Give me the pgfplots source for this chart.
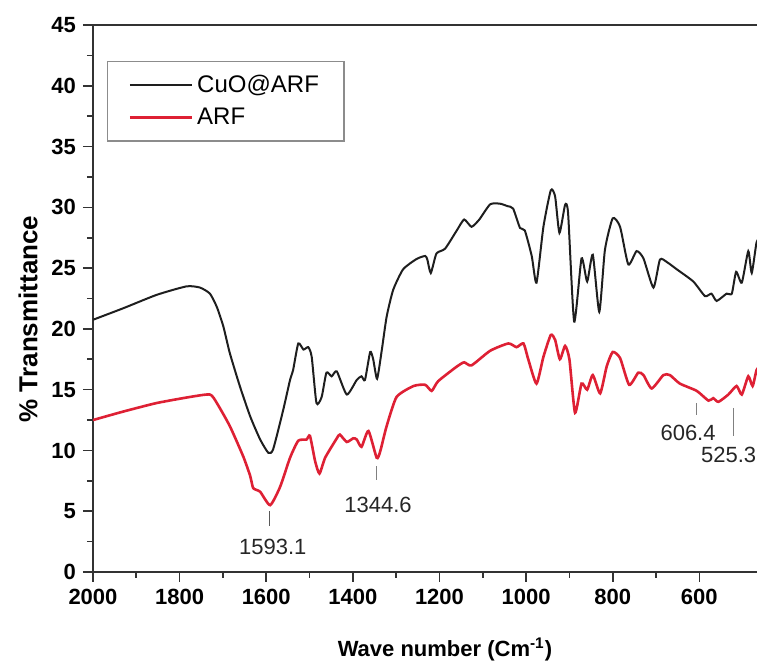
\documentclass[border=0pt]{standalone}
\usepackage{fontspec}
\setmainfont{Liberation Sans}
\usepackage{pgfplots}
\pgfplotsset{compat=1.18}
\definecolor{arfred}{RGB}{222,32,52}
\definecolor{cuoblack}{RGB}{30,30,30}
\begin{document}
\begin{tikzpicture}
\begin{axis}[
  scale only axis,
  width=334.6pt, height=273.5pt,
  x dir=reverse,
  xmin=455, xmax=2000,
  ymin=0, ymax=45,
  xtick={600,800,...,2000},
  minor x tick num=1,
  ytick={0,5,...,45},
  minor y tick num=1,
  xtick pos=left, ytick pos=left,
  tick align=outside,
  major tick length=5pt, minor tick length=3pt,
  axis line style={line width=1pt, black!80},
  every tick/.style={line width=0.8pt, black!80},
  /pgf/number format/assume math mode=true,
  /pgf/number format/1000 sep={},
  ticklabel style={font=\fontsize{11}{13}\selectfont\bfseries},
  xlabel={Wave number (Cm\textsuperscript{-1})},
  ylabel={\% Transmittance},
  xlabel style={font=\fontsize{11}{13}\selectfont\bfseries, at={(ticklabel cs:0.526)}, yshift=-10pt},
  ylabel style={font=\fontsize{13}{15}\selectfont\bfseries, at={(ticklabel cs:0.4625)}},
  legend style={at={(axis description cs:0.021,0.935)}, anchor=north west, draw=black!45, line width=0.6pt, fill=white,
    font=\fontsize{12}{14}\selectfont, inner xsep=10.5pt, inner ysep=5pt, row sep=2pt},
  legend cell align=left,
  legend image code/.code={\draw[#1] (0pt,0pt) -- (31pt,0pt);},
]
\addplot[cuoblack, line width=1pt, smooth, tension=0.35] coordinates {
(2000,20.75) (1930,21.7) (1853,22.8) (1784,23.5) (1753,23.4) (1730,22.9) (1714,21.8) (1699,20.2)
(1684,18.0) (1661,15.3) (1637,12.8) (1614,10.9) (1595,9.8) (1584,10.1) (1561,13.3) (1545,15.8)
(1538,16.6) (1526,18.8) (1514,18.3) (1503,18.5) (1495,17.7) (1484,13.9) (1472,14.4) (1461,16.4)
(1449,16.1) (1437,16.5) (1414,14.6) (1391,15.8) (1380,16.1) (1372,15.8) (1360,18.1) (1353,17.5)
(1344,15.9) (1333,18.3) (1322,21.0) (1307,23.2) (1284,24.9) (1253,25.75) (1233,26.0) (1228,25.7)
(1220,24.6) (1207,26.2) (1187,26.6) (1160,28.1) (1143,29.0) (1126,28.4) (1108,29.0) (1083,30.25)
(1060,30.3) (1043,30.1) (1030,29.9) (1014,28.3) (1003,28.1) (987,26.0) (976,23.8) (960,28.4)
(943,31.4) (933,30.9) (923,27.9) (910,30.2) (903,29.5) (889,20.6) (872,25.8) (859,23.9)
(846,26.1) (831,21.4) (818,26.5) (800,29.1) (783,28.4) (764,25.3) (745,26.4) (729,25.8)
(706,23.4) (691,25.7) (675,25.5) (652,24.9) (614,23.9) (587,22.7) (572,22.9) (560,22.3)
(537,22.9) (525,22.9) (515,24.7) (502,23.8) (487,26.4) (479,24.6) (468,27.1) (460,27.5)
};
\addlegendentry{CuO@ARF}
\addplot[arfred, line width=1.3pt, smooth, tension=0.35] coordinates {
(2000,12.5) (1930,13.2) (1853,13.9) (1776,14.4) (1730,14.6) (1714,13.9) (1684,12.0) (1653,9.5)
(1637,7.9) (1630,6.9) (1614,6.6) (1591,5.5) (1568,7.0) (1545,9.4) (1526,10.8) (1507,10.9)
(1499,11.2) (1487,9.1) (1477,8.1) (1464,9.4) (1437,11.0) (1430,11.3) (1414,10.7) (1399,11.0)
(1391,10.9) (1380,10.3) (1364,11.6) (1345,9.4) (1337,9.9) (1322,12.0) (1299,14.4) (1260,15.3)
(1233,15.4) (1218,14.9) (1203,15.7) (1160,16.9) (1143,17.25) (1126,17.0) (1083,18.2) (1041,18.8)
(1022,18.5) (1006,18.8) (995,17.5) (976,15.5) (960,17.7) (943,19.5) (933,19.1) (922,17.5)
(910,18.6) (900,17.5) (887,13.1) (872,15.5) (859,15.0) (846,16.2) (829,14.7) (814,16.9)
(800,18.1) (783,17.6) (762,15.4) (741,16.4) (729,16.2) (710,15.1) (683,16.2) (668,16.2)
(645,15.5) (606,14.9) (579,14.1) (568,14.3) (556,14.0) (533,14.6) (514,15.3) (502,14.6)
(487,16.1) (477,15.3) (468,16.6) (460,17.0)
};
\addlegendentry{ARF}
\draw[gray!70!black, line width=0.6pt] (axis cs:1593,5.0) -- (axis cs:1593,3.75);
\node[font=\fontsize{11}{13}\selectfont, text=black!85] at (axis cs:1585,2.1) {1593.1};
\draw[gray, line width=0.6pt] (axis cs:1345,8.7) -- (axis cs:1345,7.6);
\node[font=\fontsize{11}{13}\selectfont, text=black!85] at (axis cs:1342,5.5) {1344.6};
\draw[gray, line width=0.6pt] (axis cs:607,13.9) -- (axis cs:607,12.9);
\node[font=\fontsize{11}{13}\selectfont, text=black!85] at (axis cs:626,11.45) {606.4};
\draw[gray, line width=0.6pt] (axis cs:521,13.5) -- (axis cs:521,11.2);
\node[font=\fontsize{11}{13}\selectfont, text=black!85, anchor=east, inner sep=0pt] at (axis cs:468,9.6) {525.3};
\coordinate (bbsw) at (axis cs:2214.7,-7.54);
\coordinate (bbne) at (axis cs:466.9,47.06);
\end{axis}
\pgfresetboundingbox
\useasboundingbox (bbsw) rectangle (bbne);
\end{tikzpicture}
\end{document}
